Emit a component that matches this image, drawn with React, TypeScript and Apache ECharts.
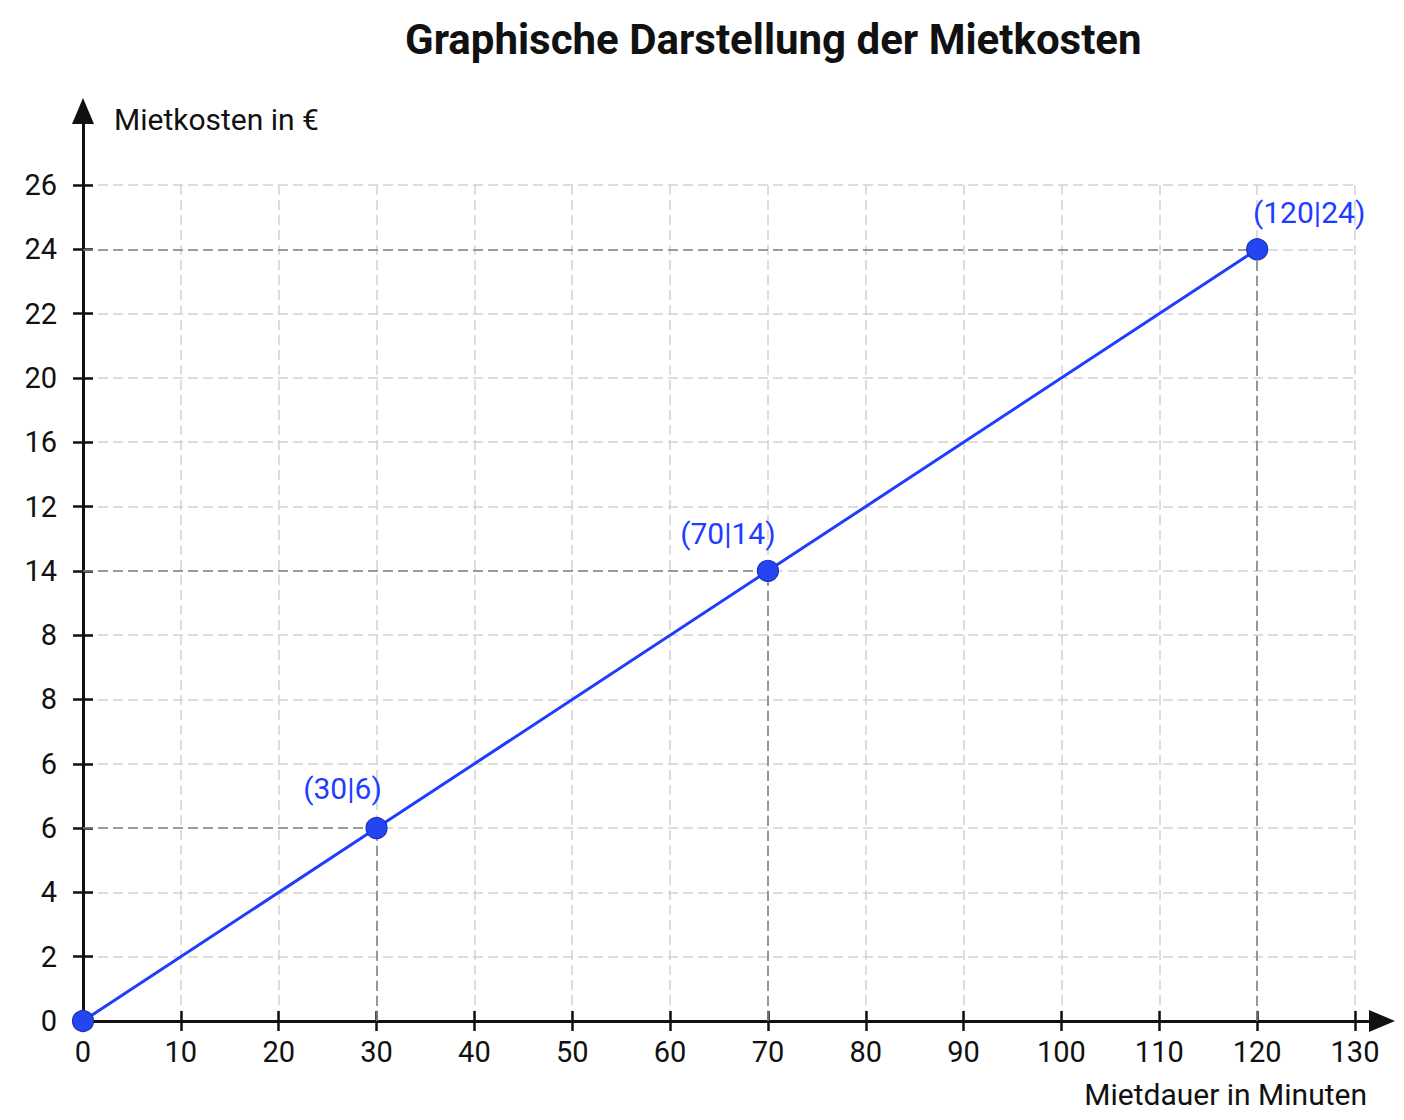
import { useEffect, useRef } from "react";
import * as echarts from "echarts";

const TITLE = "Graphische Darstellung der Mietkosten";
const X_NAME = "Mietdauer in Minuten";
const Y_NAME = "Mietkosten in €";

// x axis: minutes, 0..130 in steps of 10
const X_MAX = 130;
const X_STEP = 10;

// y axis labels as printed, one per evenly spaced tick slot from the bottom
const yTickLabels = ["0", "2", "4", "6", "6", "8", "8", "14", "12", "16", "20", "22", "24", "26"];

// the plotted points: Mietdauer (min) and Mietkosten (€)
const minutes = [0, 30, 70, 120];
const costs = [0, 6, 14, 24];

// label nudges per point (style only)
const LABEL_OFFSETS: ([number, number] | null)[] = [null, [-34, -8], [-40, -6], [52, -6]];

const FONT = "Roboto, 'Noto Sans', sans-serif";
const INK = "#111111";
const BLUE = "#1f3dff";
const GRID_LINE = { color: "#d2d2d2", width: 1.5, type: [10, 5] as number[] };
const GUIDE_LINE = { color: "#858585", width: 1.6, type: [10, 5] as number[] };

// a cost is placed on the tick slot that carries its label
const ySlot = (v: number) => yTickLabels.indexOf(String(v));

export default function App() {
    const ref = useRef<HTMLDivElement>(null);

    useEffect(() => {
        document.body.style.margin = "0";
        if (!ref.current) return;
        const chart = echarts.init(ref.current, null, { renderer: "svg" });

        const yMax = yTickLabels.length - 1;
        const points = minutes.map((m, i) => [m, ySlot(costs[i])]);

        const guides = points
            .filter(([m]) => m > 0)
            .flatMap(([m, s]) => [
                [{ coord: [0, s] }, { coord: [m, s] }],
                [{ coord: [m, 0] }, { coord: [m, s] }],
            ]);

        const tickStyle = { lineStyle: { color: INK, width: 2.5 }, length: 10 };

        chart.setOption({
            animation: false,
            backgroundColor: "#ffffff",
            textStyle: { fontFamily: FONT },
            title: {
                text: TITLE,
                left: 400,
                top: 13,
                textStyle: { fontFamily: FONT, fontSize: 42, fontWeight: "bold", color: INK },
            },
            grid: [
                { left: 83, top: 185, right: 49, bottom: 99 },
                { left: 83, top: 111, right: 22, bottom: 99 },
            ],
            xAxis: [
                {
                    type: "value", gridIndex: 0, position: "bottom",
                    min: 0, max: X_MAX, interval: X_STEP,
                    axisLine: { show: false, onZero: false },
                    axisTick: { show: true, ...tickStyle },
                    axisLabel: { color: INK, fontSize: 29, fontFamily: FONT, margin: 16 },
                    splitLine: { show: true, lineStyle: GRID_LINE },
                },
                {
                    type: "value", gridIndex: 0, position: "bottom",
                    min: 0, max: X_MAX, interval: X_STEP,
                    axisLine: { show: false, onZero: false },
                    axisTick: { show: true, inside: true, ...tickStyle },
                    axisLabel: { show: false },
                    splitLine: { show: false },
                },
                {
                    type: "value", gridIndex: 1, position: "bottom", min: 0, max: 1,
                    axisLine: {
                        show: true, onZero: false,
                        lineStyle: { color: INK, width: 3 },
                        symbol: ["none", "triangle"], symbolSize: [22, 26],
                    },
                    axisTick: { show: false },
                    axisLabel: { show: false },
                    splitLine: { show: false },
                    name: X_NAME,
                    nameLocation: "end",
                    nameGap: -15,
                    nameTextStyle: {
                        color: INK, fontSize: 30, fontFamily: FONT,
                        align: "right", verticalAlign: "top", padding: [58, 0, 0, 0],
                    },
                },
            ],
            yAxis: [
                {
                    type: "value", gridIndex: 0, position: "left",
                    min: 0, max: yMax, interval: 1,
                    axisLine: { show: false, onZero: false },
                    axisTick: { show: true, ...tickStyle },
                    axisLabel: {
                        color: INK, fontSize: 29, fontFamily: FONT, margin: 26,
                        formatter: (v: number) => yTickLabels[v] ?? "",
                    },
                    splitLine: { show: true, lineStyle: GRID_LINE },
                },
                {
                    type: "value", gridIndex: 0, position: "left",
                    min: 0, max: yMax, interval: 1,
                    axisLine: { show: false, onZero: false },
                    axisTick: { show: true, inside: true, ...tickStyle },
                    axisLabel: { show: false },
                    splitLine: { show: false },
                },
                {
                    type: "value", gridIndex: 1, position: "left", min: 0, max: 1,
                    axisLine: {
                        show: true, onZero: false,
                        lineStyle: { color: INK, width: 3 },
                        symbol: ["none", "triangle"], symbolSize: [22, 26],
                    },
                    axisTick: { show: false },
                    axisLabel: { show: false },
                    splitLine: { show: false },
                    name: Y_NAME,
                    nameLocation: "end",
                    nameGap: -8,
                    nameTextStyle: {
                        color: INK, fontSize: 30, fontFamily: FONT,
                        align: "left", verticalAlign: "middle", padding: [0, 0, 0, 31],
                    },
                },
            ],
            series: [
                {
                    type: "line",
                    xAxisIndex: 0,
                    yAxisIndex: 0,
                    z: 5,
                    data: points.map((p, i) => ({
                        value: p,
                        label: LABEL_OFFSETS[i]
                            ? { show: true, offset: LABEL_OFFSETS[i] }
                            : { show: false },
                    })),
                    symbol: "circle",
                    symbolSize: 21,
                    lineStyle: { color: BLUE, width: 3 },
                    itemStyle: { color: "#2446f2", borderColor: "#1a32b8", borderWidth: 1.2 },
                    label: {
                        show: true,
                        position: "top",
                        distance: 5,
                        color: BLUE,
                        fontSize: 30,
                        fontFamily: FONT,
                        formatter: (p: { dataIndex: number }) =>
                            `(${minutes[p.dataIndex]}|${costs[p.dataIndex]})`,
                    },
                    markLine: {
                        silent: true,
                        symbol: "none",
                        label: { show: false },
                        lineStyle: GUIDE_LINE,
                        emphasis: { disabled: true },
                        data: guides,
                    },
                },
            ],
        });

        return () => chart.dispose();
    }, []);

    return <div ref={ref} style={{ width: 1404, height: 1120 }} />;
}
